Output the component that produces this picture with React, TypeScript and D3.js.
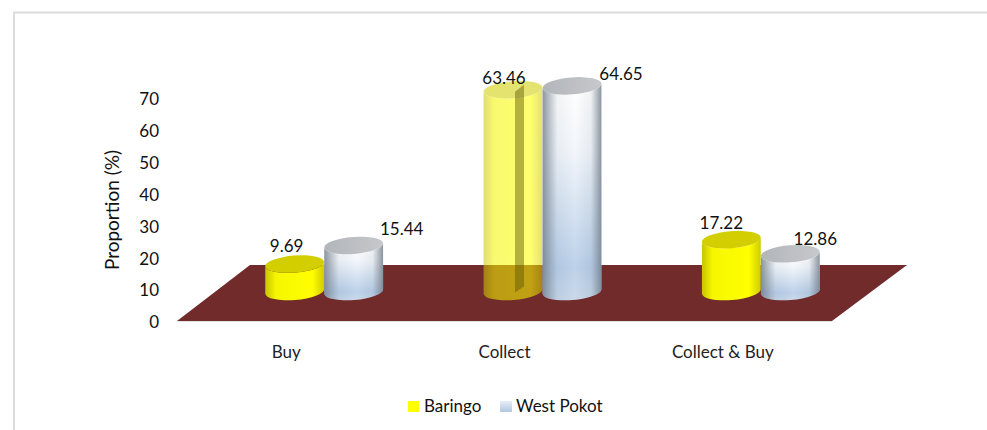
import React from "react";
import * as d3 from "d3";

const categories = ["Buy", "Collect", "Collect & Buy"];
const seriesNames = ["Baringo", "West Pokot"];
const baringo = [9.69, 63.46, 17.22];
const westPokot = [15.44, 64.65, 12.86];
const yTicks = [0, 10, 20, 30, 40, 50, 60, 70];

const width = 987;
const height = 430;
const font = "Lato, Carlito, sans-serif";

// floor of the 3d plot
const floorFront = 321;
const floorBack = 265;
const floorDepth = 75;
const floorLeft = 177;
const floorRight = 832;

// cylinders stand on the floor, shifted back from the front edge
const depthShift = 38;
const baseY = 291.5;
const rx = 29.5;
const ry = 8.5;
const tilt = -4.5;

const axisY = d3.scaleLinear().domain([0, 70]).range([floorFront, 98]);
// height of bars is foreshortened compared with the axis
const barY = d3.scaleLinear().domain([0, 70]).range([295.5, 68.5]);
const x0 = d3.scaleBand().domain(categories).range([floorLeft, floorRight]);
const x1 = d3.scaleBand().domain(seriesNames).range([-rx * 2, rx * 2]);

const labelOffsets = [
  [[-8, -18], [48, -16]],
  [[-9, -12], [49, -12]],
  [[-10, -16], [25, -15]],
];

const rad = (tilt * Math.PI) / 180;
const dx = rx * Math.cos(rad);
const dy = rx * Math.sin(rad);

const sidePath = (cx: number, top: number) =>
  `M${cx - dx},${top - dy} L${cx - dx},${baseY - dy} ` +
  `A${rx},${ry} ${tilt} 0 0 ${cx + dx},${baseY + dy} ` +
  `L${cx + dx},${top + dy} A${rx},${ry} ${tilt} 0 1 ${cx - dx},${top - dy} Z`;

const Cylinder = ({ cx, top, series, opacity }: any) => {
  const yellow = series === 0;
  return (
    <g opacity={opacity}>
      <path d={sidePath(cx, top)} fill={yellow ? "url(#yellowSide)" : "url(#blueSide)"} />
      {!yellow && <path d={sidePath(cx, top)} fill="url(#blueEdge)" />}
      <ellipse
        cx={cx}
        cy={top}
        rx={rx}
        ry={ry}
        transform={`rotate(${tilt} ${cx} ${top})`}
        fill={yellow ? "#d2ce00" : "url(#blueTop)"}
      />
    </g>
  );
};

const App = () => {
  const values = [baringo, westPokot];
  const floor = d3.line()([
    [floorLeft, floorFront],
    [floorRight, floorFront],
    [floorRight + floorDepth, floorBack],
    [floorLeft + floorDepth - 2, floorBack],
  ]) + "Z";

  return (
    <svg
      width={width}
      height={height}
      style={{ position: "absolute", left: 0, top: 0, background: "#fff" }}
      fontFamily={font}
    >
      <defs>
        <linearGradient id="yellowSide" x1="0" x2="1" y1="0" y2="0">
          <stop offset="0%" stopColor="#c8c400" />
          <stop offset="18%" stopColor="#f6f600" />
          <stop offset="80%" stopColor="#ffff00" />
          <stop offset="100%" stopColor="#cfcb00" />
        </linearGradient>
        <linearGradient id="blueSide" x1="0" x2="0" y1="0" y2="1">
          <stop offset="0%" stopColor="#ffffff" />
          <stop offset="30%" stopColor="#f2f6fb" />
          <stop offset="85%" stopColor="#b6cde8" />
          <stop offset="100%" stopColor="#c6d6e8" />
        </linearGradient>
        <linearGradient id="blueEdge" x1="0" x2="1" y1="0" y2="0">
          <stop offset="0%" stopColor="#6f7b88" stopOpacity={0.8} />
          <stop offset="25%" stopColor="#76828f" stopOpacity={0.08} />
          <stop offset="55%" stopColor="#ffffff" stopOpacity={0.1} />
          <stop offset="82%" stopColor="#76828f" stopOpacity={0.1} />
          <stop offset="100%" stopColor="#6f7b88" stopOpacity={0.8} />
        </linearGradient>
        <linearGradient id="blueTop" x1="0" x2="1" y1="0" y2="0">
          <stop offset="0%" stopColor="#b2b5ba" />
          <stop offset="100%" stopColor="#c6c8cb" />
        </linearGradient>
        <linearGradient id="legendBlue" x1="0" x2="0" y1="0" y2="1">
          <stop offset="0%" stopColor="#e8eef6" />
          <stop offset="100%" stopColor="#aec6e0" />
        </linearGradient>
      </defs>

      {/* chart frame runs off the right and bottom */}
      <path d={`M14,${height} V12.5 H${width}`} fill="none" stroke="#dcdcdc" strokeWidth={2} />

      <path d={floor} fill="#722b2b" />
      <line x1={floorLeft} x2={floorRight} y1={floorFront + 0.5} y2={floorFront + 0.5} stroke="#e3e3e3" />

      {categories.map((c, i) => {
        const cx = x0(c)! + x0.bandwidth() / 2 + depthShift;
        return (
          <g key={c}>
            {seriesNames.map((s, j) => {
              const bx = cx + x1(s)! + x1.bandwidth() / 2;
              const top = barY(values[j][i]);
              const clear = j === 0 && values[j][i] > 50;
              return (
                <g key={s}>
                  <Cylinder cx={bx} top={top} series={j} opacity={clear ? 0.56 : 1} />
                  {clear && (
                    // dark inner strip seen through the see-through cylinder
                    <path
                      d={`M${bx + 2},${top + 2} L${bx + 11},${top - 5} V${baseY - 5} L${bx + 2},${baseY + 1} Z`}
                      fill="#5a5500"
                      opacity={0.45}
                    />
                  )}
                </g>
              );
            })}
            {seriesNames.map((s, j) => {
              const bx = cx + x1(s)! + x1.bandwidth() / 2;
              const [ox, oy] = labelOffsets[i][j];
              return (
                <text
                  key={s}
                  x={bx + ox}
                  y={barY(values[j][i]) + oy + 1.5}
                  textAnchor="middle"
                  dominantBaseline="middle"
                  fontSize={17}
                  fill="#111"
                >
                  {values[j][i].toFixed(2)}
                </text>
              );
            })}
            <text x={x0(c)! + x0.bandwidth() / 2} y={354} textAnchor="middle" dominantBaseline="middle" fontSize={17} fill="#222">
              {c}
            </text>
          </g>
        );
      })}

      {yTicks.map((t) => (
        <text key={t} x={159} y={axisY(t) + 3} textAnchor="end" dominantBaseline="middle" fontSize={17} fill="#111">
          {t}
        </text>
      ))}
      <text
        transform="translate(114,210) rotate(-90)"
        textAnchor="middle"
        dominantBaseline="middle"
        fontSize={19}
        fill="#111"
      >
        Proportion (%)
      </text>

      <rect x={408} y={401} width={11} height={11} fill="#ffff00" />
      <text x={424} y={407.5} dominantBaseline="middle" fontSize={17} fill="#111">
        {seriesNames[0]}
      </text>
      <rect x={500} y={401} width={12} height={11} fill="url(#legendBlue)" />
      <text x={516} y={407.5} dominantBaseline="middle" fontSize={17} fill="#111">
        {seriesNames[1]}
      </text>
    </svg>
  );
};

export default App;
